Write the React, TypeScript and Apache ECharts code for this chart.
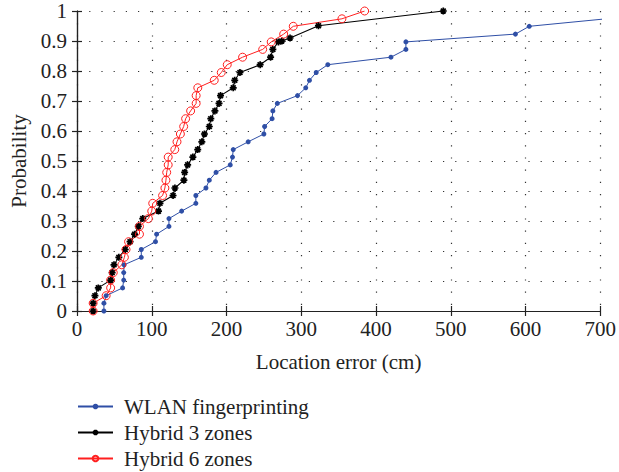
import React, { useEffect, useRef } from "react";
import * as echarts from "echarts";

const seriesNames = ["WLAN fingerprinting", "Hybrid 3 zones", "Hybrid 6 zones"];

const wlanX = [36, 36, 39, 61, 62.5, 62.5, 63, 86, 86, 105, 106.5, 123, 123, 140, 159, 159, 172.5, 177, 186, 205, 208, 209, 229, 250, 251, 261, 262, 268, 295, 306, 311, 320, 335.5, 420, 440, 440, 586.5, 605, 708, 800];
const wlanY = [0, 0.026, 0.051, 0.077, 0.103, 0.128, 0.154, 0.179, 0.205, 0.231, 0.256, 0.282, 0.308, 0.333, 0.359, 0.385, 0.41, 0.436, 0.462, 0.487, 0.513, 0.538, 0.564, 0.59, 0.615, 0.641, 0.667, 0.692, 0.718, 0.744, 0.769, 0.795, 0.821, 0.846, 0.872, 0.897, 0.923, 0.949, 0.974, 1.0];

const hyb3X = [21.6, 21.6, 24, 28.5, 45, 47, 49.5, 56, 64.5, 71, 77, 82, 88, 109, 111, 128.5, 131, 143, 144, 148, 155, 161.5, 167, 170.5, 177, 179, 184.5, 190, 192, 209, 211, 218, 245, 259, 262, 269.5, 274, 285, 323, 490];
const hyb3Y = [0, 0.026, 0.051, 0.077, 0.103, 0.128, 0.154, 0.179, 0.205, 0.231, 0.256, 0.282, 0.308, 0.333, 0.359, 0.385, 0.41, 0.436, 0.462, 0.487, 0.513, 0.538, 0.564, 0.59, 0.615, 0.641, 0.667, 0.692, 0.718, 0.744, 0.769, 0.795, 0.821, 0.846, 0.872, 0.897, 0.9, 0.91, 0.951, 1.0];

const hyb6X = [21.6, 21.6, 39, 45, 45, 48.5, 60, 63.4, 65.6, 69, 83.6, 83.6, 95.5, 100, 101.3, 114.5, 117.6, 119, 120, 122, 122, 130.8, 133.8, 138.3, 142.7, 145.3, 152, 159.4, 159.4, 161.6, 183.6, 193, 201, 221.5, 248.4, 259.8, 276.5, 289.3, 354.4, 384.8];
const hyb6Y = [0, 0.026, 0.051, 0.077, 0.103, 0.128, 0.154, 0.179, 0.205, 0.231, 0.256, 0.282, 0.308, 0.333, 0.359, 0.385, 0.41, 0.436, 0.462, 0.487, 0.513, 0.538, 0.564, 0.59, 0.615, 0.641, 0.667, 0.692, 0.718, 0.744, 0.769, 0.795, 0.821, 0.846, 0.872, 0.897, 0.923, 0.949, 0.974, 1.0];

const xTickLabels = ["0", "100", "200", "300", "400", "500", "600", "700"];
const yTickLabels = ["0", "0.1", "0.2", "0.3", "0.4", "0.5", "0.6", "0.7", "0.8", "0.9", "1"];

const zip = (xs: number[], ys: number[]) => xs.map((x, i) => [x, ys[i]]);

const FONT = "Liberation Serif";
const FS = 21;
const BLUE = "#2f4fa6";
const RED = "#ff1f1f";
const BLACK = "#000000";
const ASTERISK = "path://M5,0L5,10M0,5L10,5M1.5,1.5L8.5,8.5M1.5,8.5L8.5,1.5";

export default function App() {
  const ref = useRef<HTMLDivElement>(null);
  useEffect(() => {
    if (!ref.current) return;
    const chart = echarts.init(ref.current, null, { renderer: "svg" });
    const gridLine = { show: true, lineStyle: { type: [1.2, 11] as any, color: "#333", width: 1.2 } };
    const axisLine = { show: true, lineStyle: { color: "#222", width: 1.2 } };
    const tick = { show: true, inside: true, length: 5, lineStyle: { color: "#222", width: 1.2 } };
    chart.setOption({
      animation: false,
      backgroundColor: "#fff",
      textStyle: { fontFamily: FONT },
      grid: { left: 76, right: 13, top: 11, bottom: 161, containLabel: false },
      xAxis: [
        {
          type: "value", min: 0, max: 700, interval: 100, position: "bottom",
          name: "Location error (cm)", nameLocation: "middle", nameGap: 40,
          nameTextStyle: { fontFamily: FONT, fontSize: FS, color: "#222" },
          axisLine, axisTick: tick, splitLine: gridLine,
          axisLabel: { fontFamily: FONT, fontSize: FS, color: "#222", margin: 7,
            formatter: (v: number) => xTickLabels[Math.round(v / 100)] ?? "" },
        },
        {
          type: "value", min: 0, max: 700, interval: 100, position: "top",
          axisLine, axisTick: tick, axisLabel: { show: false }, splitLine: { show: false },
        },
      ],
      yAxis: [
        {
          type: "value", min: 0, max: 1, interval: 0.1, position: "left",
          name: "Probability", nameLocation: "middle", nameGap: 48,
          nameTextStyle: { fontFamily: FONT, fontSize: FS, color: "#222" },
          axisLine, axisTick: tick, splitLine: gridLine,
          axisLabel: { fontFamily: FONT, fontSize: FS, color: "#222", margin: 10,
            formatter: (v: number) => yTickLabels[Math.round(v * 10)] ?? "" },
        },
        {
          type: "value", min: 0, max: 1, interval: 0.1, position: "right",
          axisLine, axisTick: tick, axisLabel: { show: false }, splitLine: { show: false },
        },
      ],
      legend: {
        orient: "vertical", left: 77, top: 396, padding: 0, itemWidth: 35, itemHeight: 7, itemGap: 5,
        textStyle: { fontFamily: FONT, fontSize: FS, color: "#222", padding: [0, 0, 0, 6] },
        data: seriesNames,
      },
      series: [
        {
          name: seriesNames[0], type: "line", data: zip(wlanX, wlanY),
          symbol: "circle", symbolSize: 5,
          itemStyle: { color: BLUE },
          lineStyle: { color: BLUE, width: 1 },
        },
        {
          name: seriesNames[1], type: "line", data: zip(hyb3X, hyb3Y),
          symbol: ASTERISK, symbolSize: 7,
          itemStyle: { color: BLACK, borderColor: BLACK, borderWidth: 1.7 },
          lineStyle: { color: BLACK, width: 1.1 },
        },
        {
          name: seriesNames[2], type: "line", data: zip(hyb6X, hyb6Y),
          symbol: "circle", symbolSize: 8,
          itemStyle: { color: "rgba(255,0,0,0)", borderColor: RED, borderWidth: 1 },
          lineStyle: { color: RED, width: 1 },
        },
      ],
    });
    return () => chart.dispose();
  }, []);
  return <div ref={ref} style={{ width: 619, height: 472, position: "absolute", left: 0, top: 0 }} />;
}
